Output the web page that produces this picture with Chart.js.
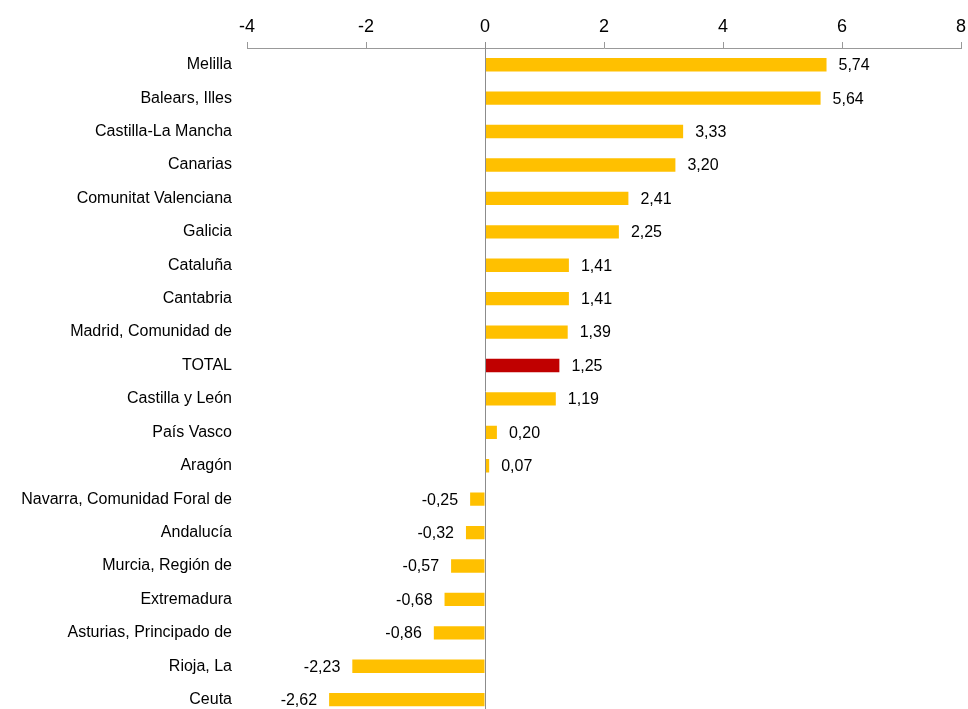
<!DOCTYPE html>
<html>
<head>
<meta charset="utf-8">
<script src="https://cdn.jsdelivr.net/npm/chart.js@4/dist/chart.umd.min.js"></script>
<style>
  html, body { margin: 0; padding: 0; background: #fff; overflow: hidden; }
  #wrap { position: relative; width: 968px; height: 741px; }
</style>
</head>
<body>
<div id="wrap"><canvas id="chart"></canvas></div>
<script>
const regions = ['Melilla', 'Balears, Illes', 'Castilla-La Mancha', 'Canarias', 'Comunitat Valenciana',
  'Galicia', 'Cataluña', 'Cantabria', 'Madrid, Comunidad de', 'TOTAL', 'Castilla y León',
  'País Vasco', 'Aragón', 'Navarra, Comunidad Foral de', 'Andalucía', 'Murcia, Región de',
  'Extremadura', 'Asturias, Principado de', 'Rioja, La', 'Ceuta'];
const values = [5.74, 5.64, 3.33, 3.20, 2.41, 2.25, 1.41, 1.41, 1.39, 1.25, 1.19,
  0.20, 0.07, -0.25, -0.32, -0.57, -0.68, -0.86, -2.23, -2.62];
const xTicks = [-4, -2, 0, 2, 4, 6, 8];

const FONT = "'Liberation Sans', Arial, sans-serif";

// value labels next to the bar ends, comma decimals
const valueLabels = {
  id: 'valueLabels',
  afterDatasetsDraw(chart) {
    const ctx = chart.ctx;
    const meta = chart.getDatasetMeta(0);
    ctx.save();
    ctx.font = '16px ' + FONT;
    ctx.fillStyle = '#000';
    ctx.textBaseline = 'middle';
    meta.data.forEach((bar, i) => {
      const v = values[i];
      const txt = v.toFixed(2).replace('.', ',');
      if (v >= 0) {
        ctx.textAlign = 'left';
        ctx.fillText(txt, bar.x + 12, bar.y + 1);
      } else {
        ctx.textAlign = 'right';
        ctx.fillText(txt, bar.x - 12, bar.y + 1);
      }
    });
    ctx.restore();
  }
};

// vertical zero line from tick top to the bottom
const zeroLine = {
  id: 'zeroLine',
  afterDatasetsDraw(chart) {
    const ctx = chart.ctx;
    const x = Math.round(chart.scales.x.getPixelForValue(0)) + 0.5;
    ctx.save();
    ctx.strokeStyle = '#8c8c8c';
    ctx.lineWidth = 1;
    ctx.beginPath();
    ctx.moveTo(x, chart.chartArea.top - 6);
    ctx.lineTo(x, chart.height);
    ctx.stroke();
    ctx.restore();
  }
};

new Chart(document.getElementById('chart'), {
  type: 'bar',
  data: {
    labels: regions,
    datasets: [{
      data: values,
      backgroundColor: regions.map(r => r === 'TOTAL' ? '#C00000' : '#FFC000'),
      barPercentage: 0.4,
      categoryPercentage: 1
    }]
  },
  options: {
    indexAxis: 'y',
    responsive: true,
    maintainAspectRatio: false,
    animation: false,
    layout: { padding: { left: 0, right: 7, top: 1, bottom: 0 } },
    plugins: { legend: { display: false }, tooltip: { enabled: false } },
    scales: {
      x: {
        position: 'top',
        min: -4,
        max: 8,
        afterBuildTicks: s => { s.ticks = xTicks.map(v => ({ value: v })); },
        afterFit: s => { s.height = 47; s.paddingRight = 0; s.paddingLeft = 0; },
        ticks: {
          font: { family: FONT, size: 18 },
          color: '#000',
          padding: 4
        },
        grid: {
          drawOnChartArea: false,
          tickLength: 6,
          tickColor: '#999'
        },
        border: { display: true, color: '#999' }
      },
      y: {
        afterFit: s => { s.width = 247; },
        ticks: {
          font: { family: FONT, size: 16 },
          color: '#000',
          padding: 15
        },
        grid: { display: false, drawTicks: false },
        border: { display: false }
      }
    }
  },
  plugins: [zeroLine, valueLabels]
});
</script>
</body>
</html>
